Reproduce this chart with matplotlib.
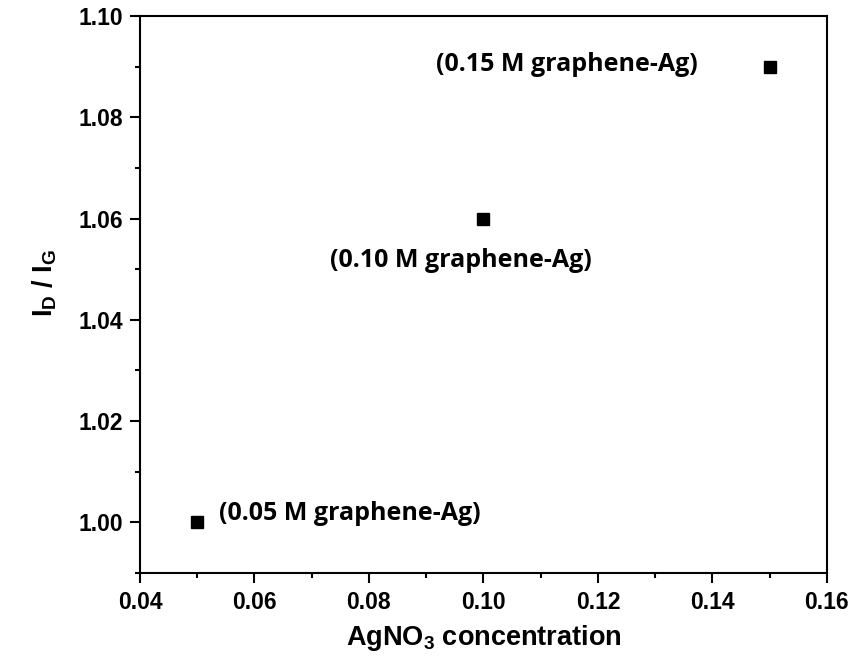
import matplotlib
matplotlib.use("Agg")
import matplotlib.pyplot as plt
from matplotlib.ticker import MultipleLocator, FormatStrFormatter

plt.rcParams['font.family'] = ['Liberation Sans', 'DejaVu Sans']
plt.rcParams['font.weight'] = 'bold'
plt.rcParams['mathtext.fontset'] = 'custom'
plt.rcParams['mathtext.bf'] = 'Liberation Sans:bold'
plt.rcParams['mathtext.rm'] = 'Liberation Sans:bold'
plt.rcParams['mathtext.default'] = 'bf'

concentration = [0.05, 0.10, 0.15]
id_ig = [1.00, 1.06, 1.09]
labels = ["(0.05 M graphene-Ag)", "(0.10 M graphene-Ag)", "(0.15 M graphene-Ag)"]

fig = plt.figure(figsize=(8.64, 6.67), dpi=100)
ax = fig.add_axes([0.162, 0.141, 0.795, 0.835])

ax.plot(concentration, id_ig, linestyle='none', marker='s', markersize=8.5,
        color='black')

# label placement relative to each marker (offset in points, alignment)
placements = [((16, 6), 'left'), ((-16, -30), 'center'), ((-52, 1.5), 'right')]
for x, y, txt, (off, ha) in zip(concentration, id_ig, labels, placements):
    ax.annotate(txt, (x, y), xytext=off, textcoords='offset points',
                ha=ha, va='center', fontsize=18, fontweight='bold',
                family=['Open Sans', 'DejaVu Sans'])

ax.set_xlim(0.04, 0.16)
ax.set_ylim(0.99, 1.10)
ax.xaxis.set_major_locator(MultipleLocator(0.02))
ax.xaxis.set_minor_locator(MultipleLocator(0.01))
ax.yaxis.set_major_locator(MultipleLocator(0.02))
ax.yaxis.set_minor_locator(MultipleLocator(0.01))
ax.xaxis.set_major_formatter(FormatStrFormatter('%.2f'))
ax.yaxis.set_major_formatter(FormatStrFormatter('%.2f'))

ax.tick_params(which='major', direction='out', length=7.2, width=1.5,
               labelsize=16.5)
ax.tick_params(axis='x', which='major', pad=6)
ax.tick_params(axis='y', which='major', pad=5)
ax.tick_params(which='minor', direction='out', length=3.6, width=1.5)
for lab in ax.get_xticklabels() + ax.get_yticklabels():
    lab.set_fontweight('bold')
for s in ax.spines.values():
    s.set_linewidth(1.5)

ax.set_xlabel("AgNO$_3$ concentration", fontsize=19.5, fontweight='bold', labelpad=6)
ax.set_ylabel("I$_D$ / I$_G$", fontsize=19.5, fontweight='bold')
ax.yaxis.set_label_coords(-0.118, 0.52)

fig.savefig("out.png", dpi=100)
